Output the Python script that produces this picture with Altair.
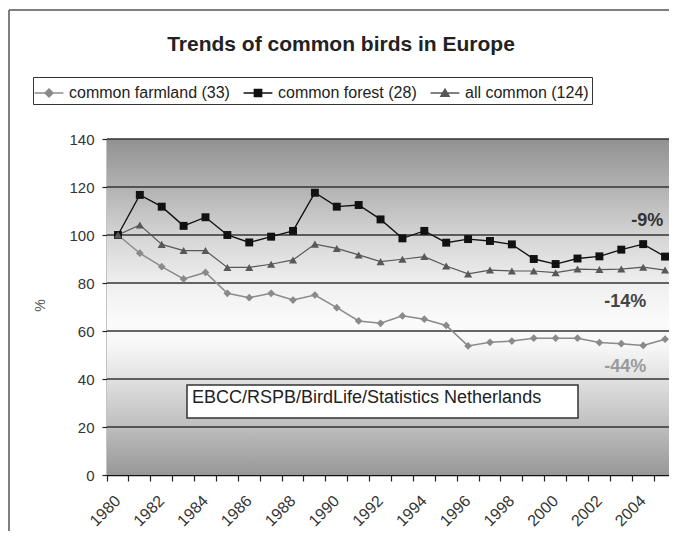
import altair as alt
import pandas as pd

# ---------------- data ----------------
years = list(range(1980, 2006))
farmland = [100.0, 92.4, 86.8, 81.7, 84.4, 75.7, 73.9, 75.7, 72.9, 75.0, 69.7, 64.2, 63.2,
            66.3, 64.9, 62.3, 53.8, 55.3, 55.8, 57.0, 57.0, 57.0, 55.2, 54.7, 54.0, 56.6]
forest = [100.0, 116.7, 111.8, 103.8, 107.4, 100.0, 96.9, 99.3, 101.7, 117.6, 111.8, 112.5, 106.5,
          98.6, 101.7, 96.8, 98.3, 97.5, 96.1, 90.0, 87.9, 90.2, 91.1, 93.9, 96.2, 91.0]
all_common = [100.0, 104.2, 96.1, 93.5, 93.5, 86.5, 86.5, 87.8, 89.6, 96.2, 94.4, 91.7, 88.9,
              89.9, 91.0, 87.1, 83.8, 85.4, 85.0, 85.0, 84.3, 85.8, 85.6, 85.8, 86.6, 85.4]

series_names = ["common farmland (33)", "common forest (28)", "all common (124)"]
y_ticks = [0, 20, 40, 60, 80, 100, 120, 140]
grid_levels = [20, 40, 60, 80, 100, 120, 140]

change_labels = ["-9%", "-14%", "-44%"]
change_years = [2004, 2003, 2003]
change_levels = [106, 72, 45]

title_text = "Trends of common birds in Europe"
source_text = "EBCC/RSPB/BirdLife/Statistics Netherlands"
y_title = "%"

# ---------------- styles ----------------
series_colors = ["#8a8a8a", "#111111", "#585858"]
marker_shapes = ["diamond", "square", "triangle-up"]
marker_sizes = [60, 66, 78]
line_widths = [1.5, 1.2, 1.5]
legend_paths = [
    "M-1.2,0L1.2,0M0,-0.33L0.33,0L0,0.33L-0.33,0Z",
    "M-1.2,0L1.2,0M-0.3,-0.3L0.3,-0.3L0.3,0.3L-0.3,0.3Z",
    "M-1.2,0L1.2,0M0,-0.32L0.34,0.27L-0.34,0.27Z",
]
change_colors = ["#333333", "#444444", "#9a9a9a"]

SANS = "Liberation Sans, Arial, sans-serif"

W, H = 562, 336      # visible view (page-limited)
SPAN = 569           # pixel span of the year bands (plot runs off the right edge)

rows = []
for name, vals in zip(series_names, [farmland, forest, all_common]):
    for yr, v in zip(years, vals):
        rows.append({"year": yr, "series": name, "value": v})
df = pd.DataFrame(rows)

bg_df = pd.DataFrame({"lo": [y_ticks[0]], "hi": [y_ticks[-1]]})
grid_df = pd.DataFrame({"value": grid_levels})
ann_df = pd.DataFrame({"year": change_years, "value": change_levels, "label": change_labels})
src_df = pd.DataFrame({"t": [source_text]})
title_df = pd.DataFrame({"t": [title_text]})

y_scale = alt.Scale(domain=[0, 140], nice=False)
x_scale = alt.Scale(type="band", domain=years, range=[0, SPAN], paddingInner=0, paddingOuter=0)

x_axis = alt.Axis(
    title=None, bandPosition=0, labelAngle=315,
    labelAlign="right", labelBaseline="middle",
    labelExpr="datum.value % 2 == 0 ? datum.label : ''",
    labelFont=SANS, labelFontSize=16, labelColor="#333333", labelPadding=17,
    labelOverlap=False, tickSize=6, tickColor="#222222", tickWidth=1.2,
    domainColor="#111111", domainWidth=1.5, grid=False,
)
y_axis = alt.Axis(
    values=y_ticks, grid=False, title=y_title,
    labelFont=SANS, labelFontSize=15, labelColor="#333333", labelPadding=8,
    tickSize=5, tickColor="#222222", tickWidth=1.2,
    domainColor="#111111", domainWidth=1.5,
    titleFont=SANS, titleFontSize=14, titleFontWeight="normal", titleColor="#555555",
    titleX=-67, titleY=166, titleAngle=270, titleAlign="center", titleBaseline="middle",
)

x_enc = alt.X("year:O", scale=x_scale, bandPosition=0.5, axis=x_axis, title=None)

def y_enc(field):
    return alt.Y(field, scale=y_scale, axis=y_axis, title=y_title)

# outer frame: only its top and left edges fall inside the picture
frame_top = alt.Chart(title_df).mark_rule(color="#555555", strokeWidth=1.5).encode(
    x=alt.value(-98), x2=alt.value(SPAN + 20), y=alt.value(-129)
)
frame_left = alt.Chart(title_df).mark_rule(color="#555555", strokeWidth=1.5).encode(
    x=alt.value(-98), y=alt.value(-129), y2=alt.value(H + 100)
)

# gradient plot background
gradient = {
    "gradient": "linear", "x1": 0, "y1": 0, "x2": 0, "y2": 1,
    "stops": [
        {"offset": 0.0, "color": "#919191"},
        {"offset": 0.14, "color": "#b1b1b1"},
        {"offset": 0.29, "color": "#d5d5d5"},
        {"offset": 0.43, "color": "#efefef"},
        {"offset": 0.55, "color": "#fbfbfb"},
        {"offset": 0.62, "color": "#f6f6f6"},
        {"offset": 0.71, "color": "#e2e2e2"},
        {"offset": 0.86, "color": "#bdbdbd"},
        {"offset": 1.0, "color": "#979797"},
    ],
}
background = alt.Chart(bg_df).mark_rect(fill=gradient).encode(
    x=alt.value(0), x2=alt.value(SPAN),
    y=y_enc("hi:Q"), y2="lo:Q",
)

grid = alt.Chart(grid_df).mark_rule(color="#333333", strokeWidth=1.5).encode(
    x=alt.value(0), x2=alt.value(SPAN),
    y=y_enc("value:Q"),
)

src_box = alt.Chart(src_df).mark_rect(fill="white", stroke="#333333", strokeWidth=1.5).encode(
    x=alt.value(80), x2=alt.value(471), y=alt.value(246), y2=alt.value(279)
)
src_text = alt.Chart(src_df).mark_text(
    align="left", baseline="alphabetic", font=SANS, fontSize=18, color="#222222"
).encode(text="t:N", x=alt.value(85), y=alt.value(264))

lines = alt.Chart(df).mark_line().encode(
    x=x_enc,
    y=y_enc("value:Q"),
    color=alt.Color("series:N", scale=alt.Scale(domain=series_names, range=series_colors), legend=None),
    strokeWidth=alt.StrokeWidth("series:N", scale=alt.Scale(domain=series_names, range=line_widths), legend=None),
    detail="series:N",
)

points = alt.Chart(df).mark_point(filled=True, opacity=1).encode(
    x=x_enc,
    y=y_enc("value:Q"),
    color=alt.Color("series:N", scale=alt.Scale(domain=series_names, range=series_colors), legend=None),
    shape=alt.Shape("series:N", scale=alt.Scale(domain=series_names, range=marker_shapes), legend=None),
    size=alt.Size("series:N", scale=alt.Scale(domain=series_names, range=marker_sizes), legend=None),
)

annotations = alt.Chart(ann_df).mark_text(
    font=SANS, fontSize=18, fontWeight="bold", align="center", baseline="middle", dx=4
).encode(
    x=x_enc,
    y=y_enc("value:Q"),
    text="label:N",
    color=alt.Color("label:N", scale=alt.Scale(domain=change_labels, range=change_colors), legend=None),
)

title = alt.Chart(title_df).mark_text(
    font=SANS, fontSize=21, fontWeight="bold", color="#222222", align="center", baseline="middle"
).encode(text="t:N", x=alt.value(234), y=alt.value(-94))

legend = alt.Legend(
    title=None, orient="none", legendX=-74, legendY=-62, direction="horizontal",
    strokeColor="#333333", fillColor="white", padding=3,
    symbolSize=576, symbolStrokeWidth=1.5,
    labelFont=SANS, labelFontSize=16, labelColor="#222222", labelLimit=400,
    labelOffset=7, columnPadding=10,
)
legend_layer = alt.Chart(df).transform_filter("false").mark_point(filled=True, opacity=1).encode(
    fill=alt.Fill("series:N", scale=alt.Scale(domain=series_names, range=series_colors), legend=legend),
    stroke=alt.Stroke("series:N", scale=alt.Scale(domain=series_names, range=series_colors), legend=legend),
    shape=alt.Shape("series:N", scale=alt.Scale(domain=series_names, range=legend_paths), legend=legend),
)

chart = alt.layer(
    frame_top, frame_left, background, grid, src_box, src_text, lines, points, annotations, title,
    legend_layer,
).resolve_scale(
    color="independent", shape="independent", fill="independent", stroke="independent"
).properties(
    width=W, height=H,
    autosize=alt.AutoSizeParams(type="none"),
    padding={"left": 99, "top": 131, "right": 0, "bottom": 56},
).configure_view(stroke=None)

chart.save("out.html", embed_options={"renderer": "svg", "actions": False})
